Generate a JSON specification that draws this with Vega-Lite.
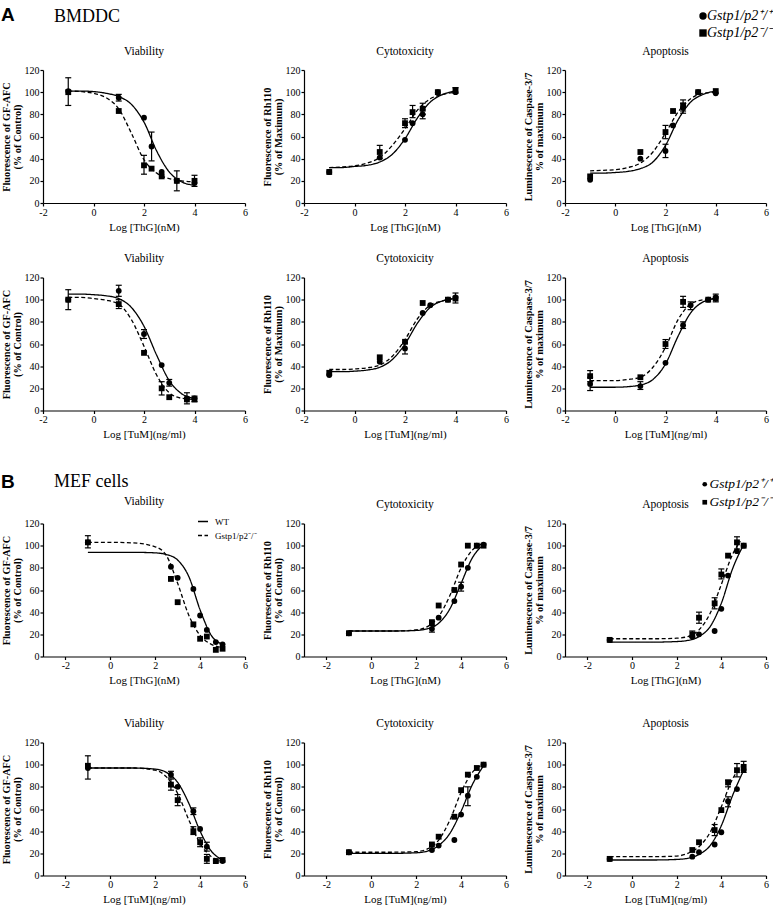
{
"$schema": "https://vega.github.io/schema/vega-lite/v6.json",
"padding": {"left": 1, "top": 6, "right": 0, "bottom": 0},
"config": {
 "view": {"stroke": null},
 "font": "Liberation Serif",
 "axis": {"grid": false, "domainColor": "#000", "domainWidth": 1.2, "tickColor": "#000", "tickWidth": 1.2, "tickSize": 3, "labelColor": "#000", "labelFont": "Liberation Serif", "labelFontSize": 10, "labelPadding": 1, "titleColor": "#000", "titleFont": "Liberation Serif", "labelOverlap": false, "tickCount": 10},
 "axisX": {"titleFontSize": 11, "titleFontWeight": "normal", "titlePadding": 4, "labelFlush": false},
 "axisY": {"titleFontSize": 10.3, "titleFontWeight": "bold", "titlePadding": 2, "titleLineHeight": 11, "labelOverlap": false},
 "title": {"font": "Liberation Serif", "fontSize": 11.5, "fontWeight": "normal", "color": "#000", "offset": 8},
 "legend": {"labelColor": "#000", "labelFont": "Liberation Serif", "padding": 0}
},
"datasets": {
"fit": [
{"p":"A1","g":"wt","x":-1,"y":101},{"p":"A1","g":"wt","x":-0.5,"y":101},{"p":"A1","g":"wt","x":0,"y":100.5},{"p":"A1","g":"wt","x":0.5,"y":99},{"p":"A1","g":"wt","x":1,"y":96},{"p":"A1","g":"wt","x":1.5,"y":89},{"p":"A1","g":"wt","x":2,"y":73},{"p":"A1","g":"wt","x":2.5,"y":47},{"p":"A1","g":"wt","x":3,"y":28},{"p":"A1","g":"wt","x":3.5,"y":19},{"p":"A1","g":"wt","x":4,"y":16},
{"p":"A1","g":"ko","x":-1,"y":101},{"p":"A1","g":"ko","x":-0.5,"y":100.5},{"p":"A1","g":"ko","x":0,"y":99},{"p":"A1","g":"ko","x":0.5,"y":95},{"p":"A1","g":"ko","x":1,"y":85},{"p":"A1","g":"ko","x":1.5,"y":63},{"p":"A1","g":"ko","x":2,"y":39},{"p":"A1","g":"ko","x":2.5,"y":27},{"p":"A1","g":"ko","x":3,"y":22},{"p":"A1","g":"ko","x":3.5,"y":20},{"p":"A1","g":"ko","x":4,"y":19},
{"p":"A2","g":"wt","x":-1,"y":32},{"p":"A2","g":"wt","x":-0.5,"y":32},{"p":"A2","g":"wt","x":0,"y":33},{"p":"A2","g":"wt","x":0.5,"y":34},{"p":"A2","g":"wt","x":1,"y":37},{"p":"A2","g":"wt","x":1.5,"y":44},{"p":"A2","g":"wt","x":2,"y":58},{"p":"A2","g":"wt","x":2.5,"y":77},{"p":"A2","g":"wt","x":3,"y":91},{"p":"A2","g":"wt","x":3.5,"y":98},{"p":"A2","g":"wt","x":4,"y":101},
{"p":"A2","g":"ko","x":-1,"y":32},{"p":"A2","g":"ko","x":-0.5,"y":32.5},{"p":"A2","g":"ko","x":0,"y":33.5},{"p":"A2","g":"ko","x":0.5,"y":36},{"p":"A2","g":"ko","x":1,"y":41},{"p":"A2","g":"ko","x":1.5,"y":52},{"p":"A2","g":"ko","x":2,"y":67},{"p":"A2","g":"ko","x":2.5,"y":84},{"p":"A2","g":"ko","x":3,"y":94},{"p":"A2","g":"ko","x":3.5,"y":98},{"p":"A2","g":"ko","x":4,"y":100},
{"p":"A3","g":"wt","x":-1,"y":27},{"p":"A3","g":"wt","x":-0.5,"y":27},{"p":"A3","g":"wt","x":0,"y":27.5},{"p":"A3","g":"wt","x":0.5,"y":28.5},{"p":"A3","g":"wt","x":1,"y":31},{"p":"A3","g":"wt","x":1.5,"y":37},{"p":"A3","g":"wt","x":2,"y":52},{"p":"A3","g":"wt","x":2.5,"y":75},{"p":"A3","g":"wt","x":3,"y":91},{"p":"A3","g":"wt","x":3.5,"y":98},{"p":"A3","g":"wt","x":4,"y":101},
{"p":"A3","g":"ko","x":-1,"y":29},{"p":"A3","g":"ko","x":-0.5,"y":29.5},{"p":"A3","g":"ko","x":0,"y":30},{"p":"A3","g":"ko","x":0.5,"y":32},{"p":"A3","g":"ko","x":1,"y":36},{"p":"A3","g":"ko","x":1.5,"y":46},{"p":"A3","g":"ko","x":2,"y":63},{"p":"A3","g":"ko","x":2.5,"y":82},{"p":"A3","g":"ko","x":3,"y":94},{"p":"A3","g":"ko","x":3.5,"y":99},{"p":"A3","g":"ko","x":4,"y":100},
{"p":"A4","g":"wt","x":-1,"y":105},{"p":"A4","g":"wt","x":-0.5,"y":105},{"p":"A4","g":"wt","x":0,"y":104.5},{"p":"A4","g":"wt","x":0.5,"y":103.5},{"p":"A4","g":"wt","x":1,"y":101},{"p":"A4","g":"wt","x":1.5,"y":93},{"p":"A4","g":"wt","x":2,"y":76},{"p":"A4","g":"wt","x":2.5,"y":50},{"p":"A4","g":"wt","x":3,"y":27},{"p":"A4","g":"wt","x":3.5,"y":15},{"p":"A4","g":"wt","x":4,"y":11},
{"p":"A4","g":"ko","x":-1,"y":102},{"p":"A4","g":"ko","x":-0.5,"y":102},{"p":"A4","g":"ko","x":0,"y":101},{"p":"A4","g":"ko","x":0.5,"y":99.5},{"p":"A4","g":"ko","x":1,"y":96},{"p":"A4","g":"ko","x":1.5,"y":82},{"p":"A4","g":"ko","x":2,"y":58},{"p":"A4","g":"ko","x":2.5,"y":32},{"p":"A4","g":"ko","x":3,"y":16},{"p":"A4","g":"ko","x":3.5,"y":11},{"p":"A4","g":"ko","x":4,"y":10},
{"p":"A5","g":"wt","x":-1,"y":35},{"p":"A5","g":"wt","x":-0.5,"y":35},{"p":"A5","g":"wt","x":0,"y":35.5},{"p":"A5","g":"wt","x":0.5,"y":36.5},{"p":"A5","g":"wt","x":1,"y":39},{"p":"A5","g":"wt","x":1.5,"y":46},{"p":"A5","g":"wt","x":2,"y":60},{"p":"A5","g":"wt","x":2.5,"y":79},{"p":"A5","g":"wt","x":3,"y":93},{"p":"A5","g":"wt","x":3.5,"y":99},{"p":"A5","g":"wt","x":4,"y":101},
{"p":"A5","g":"ko","x":-1,"y":37},{"p":"A5","g":"ko","x":-0.5,"y":37},{"p":"A5","g":"ko","x":0,"y":37.5},{"p":"A5","g":"ko","x":0.5,"y":38.5},{"p":"A5","g":"ko","x":1,"y":41},{"p":"A5","g":"ko","x":1.5,"y":49},{"p":"A5","g":"ko","x":2,"y":64},{"p":"A5","g":"ko","x":2.5,"y":83},{"p":"A5","g":"ko","x":3,"y":95},{"p":"A5","g":"ko","x":3.5,"y":99},{"p":"A5","g":"ko","x":4,"y":101},
{"p":"A6","g":"wt","x":-1,"y":21},{"p":"A6","g":"wt","x":-0.5,"y":21},{"p":"A6","g":"wt","x":0,"y":21},{"p":"A6","g":"wt","x":0.5,"y":21.5},{"p":"A6","g":"wt","x":1,"y":23},{"p":"A6","g":"wt","x":1.5,"y":28},{"p":"A6","g":"wt","x":2,"y":42},{"p":"A6","g":"wt","x":2.5,"y":67},{"p":"A6","g":"wt","x":3,"y":88},{"p":"A6","g":"wt","x":3.5,"y":98},{"p":"A6","g":"wt","x":4,"y":101},
{"p":"A6","g":"ko","x":-1,"y":27},{"p":"A6","g":"ko","x":-0.5,"y":27},{"p":"A6","g":"ko","x":0,"y":27},{"p":"A6","g":"ko","x":0.5,"y":28},{"p":"A6","g":"ko","x":1,"y":30},{"p":"A6","g":"ko","x":1.5,"y":39},{"p":"A6","g":"ko","x":2,"y":57},{"p":"A6","g":"ko","x":2.5,"y":82},{"p":"A6","g":"ko","x":3,"y":96},{"p":"A6","g":"ko","x":3.5,"y":100},{"p":"A6","g":"ko","x":4,"y":101},
{"p":"B1","g":"wt","x":-1,"y":94},{"p":"B1","g":"wt","x":0,"y":94},{"p":"B1","g":"wt","x":1,"y":94},{"p":"B1","g":"wt","x":2,"y":93.5},{"p":"B1","g":"wt","x":2.5,"y":92},{"p":"B1","g":"wt","x":3,"y":87},{"p":"B1","g":"wt","x":3.5,"y":72},{"p":"B1","g":"wt","x":4,"y":42},{"p":"B1","g":"wt","x":4.5,"y":19},{"p":"B1","g":"wt","x":5,"y":11},
{"p":"B1","g":"ko","x":-1,"y":103},{"p":"B1","g":"ko","x":0,"y":103},{"p":"B1","g":"ko","x":1,"y":102.5},{"p":"B1","g":"ko","x":2,"y":99},{"p":"B1","g":"ko","x":2.5,"y":91},{"p":"B1","g":"ko","x":3,"y":66},{"p":"B1","g":"ko","x":3.5,"y":37},{"p":"B1","g":"ko","x":4,"y":19},{"p":"B1","g":"ko","x":4.5,"y":11},{"p":"B1","g":"ko","x":5,"y":8},
{"p":"B2","g":"wt","x":-1,"y":23},{"p":"B2","g":"wt","x":0,"y":23},{"p":"B2","g":"wt","x":1,"y":23},{"p":"B2","g":"wt","x":2,"y":23.5},{"p":"B2","g":"wt","x":2.5,"y":25},{"p":"B2","g":"wt","x":3,"y":30},{"p":"B2","g":"wt","x":3.5,"y":43},{"p":"B2","g":"wt","x":4,"y":66},{"p":"B2","g":"wt","x":4.5,"y":89},{"p":"B2","g":"wt","x":5,"y":101},
{"p":"B2","g":"ko","x":-1,"y":23},{"p":"B2","g":"ko","x":0,"y":23},{"p":"B2","g":"ko","x":1,"y":23},{"p":"B2","g":"ko","x":2,"y":24},{"p":"B2","g":"ko","x":2.5,"y":27},{"p":"B2","g":"ko","x":3,"y":36},{"p":"B2","g":"ko","x":3.5,"y":55},{"p":"B2","g":"ko","x":4,"y":80},{"p":"B2","g":"ko","x":4.5,"y":96},{"p":"B2","g":"ko","x":5,"y":102},
{"p":"B3","g":"wt","x":-1,"y":13},{"p":"B3","g":"wt","x":0,"y":13},{"p":"B3","g":"wt","x":1,"y":13},{"p":"B3","g":"wt","x":2,"y":13.5},{"p":"B3","g":"wt","x":2.5,"y":14.5},{"p":"B3","g":"wt","x":3,"y":18},{"p":"B3","g":"wt","x":3.5,"y":27},{"p":"B3","g":"wt","x":4,"y":48},{"p":"B3","g":"wt","x":4.5,"y":79},{"p":"B3","g":"wt","x":5,"y":101},
{"p":"B3","g":"ko","x":-1,"y":16},{"p":"B3","g":"ko","x":0,"y":16},{"p":"B3","g":"ko","x":1,"y":16},{"p":"B3","g":"ko","x":2,"y":16.5},{"p":"B3","g":"ko","x":2.5,"y":18},{"p":"B3","g":"ko","x":3,"y":24},{"p":"B3","g":"ko","x":3.5,"y":39},{"p":"B3","g":"ko","x":4,"y":65},{"p":"B3","g":"ko","x":4.5,"y":92},{"p":"B3","g":"ko","x":4.85,"y":104},
{"p":"B4","g":"wt","x":-1,"y":97},{"p":"B4","g":"wt","x":0,"y":97},{"p":"B4","g":"wt","x":1,"y":97},{"p":"B4","g":"wt","x":2,"y":96},{"p":"B4","g":"wt","x":2.5,"y":93},{"p":"B4","g":"wt","x":3,"y":84},{"p":"B4","g":"wt","x":3.5,"y":65},{"p":"B4","g":"wt","x":4,"y":40},{"p":"B4","g":"wt","x":4.5,"y":22},{"p":"B4","g":"wt","x":5,"y":14},
{"p":"B4","g":"ko","x":-1,"y":97},{"p":"B4","g":"ko","x":0,"y":97},{"p":"B4","g":"ko","x":1,"y":97},{"p":"B4","g":"ko","x":2,"y":95},{"p":"B4","g":"ko","x":2.5,"y":89},{"p":"B4","g":"ko","x":3,"y":74},{"p":"B4","g":"ko","x":3.5,"y":50},{"p":"B4","g":"ko","x":4,"y":29},{"p":"B4","g":"ko","x":4.5,"y":17},{"p":"B4","g":"ko","x":5,"y":13},
{"p":"B5","g":"wt","x":-1,"y":20},{"p":"B5","g":"wt","x":0,"y":20},{"p":"B5","g":"wt","x":1,"y":20},{"p":"B5","g":"wt","x":2,"y":20.5},{"p":"B5","g":"wt","x":2.5,"y":22},{"p":"B5","g":"wt","x":3,"y":27},{"p":"B5","g":"wt","x":3.5,"y":38},{"p":"B5","g":"wt","x":4,"y":58},{"p":"B5","g":"wt","x":4.5,"y":82},{"p":"B5","g":"wt","x":5,"y":99},
{"p":"B5","g":"ko","x":-1,"y":21},{"p":"B5","g":"ko","x":0,"y":21},{"p":"B5","g":"ko","x":1,"y":21},{"p":"B5","g":"ko","x":2,"y":21.5},{"p":"B5","g":"ko","x":2.5,"y":24},{"p":"B5","g":"ko","x":3,"y":32},{"p":"B5","g":"ko","x":3.5,"y":50},{"p":"B5","g":"ko","x":4,"y":75},{"p":"B5","g":"ko","x":4.5,"y":93},{"p":"B5","g":"ko","x":5,"y":100},
{"p":"B6","g":"wt","x":-1,"y":14},{"p":"B6","g":"wt","x":0,"y":14},{"p":"B6","g":"wt","x":1,"y":14},{"p":"B6","g":"wt","x":2,"y":14.5},{"p":"B6","g":"wt","x":2.5,"y":15.5},{"p":"B6","g":"wt","x":3,"y":19},{"p":"B6","g":"wt","x":3.5,"y":27},{"p":"B6","g":"wt","x":4,"y":45},{"p":"B6","g":"wt","x":4.5,"y":72},{"p":"B6","g":"wt","x":5,"y":95},
{"p":"B6","g":"ko","x":-1,"y":17},{"p":"B6","g":"ko","x":0,"y":17},{"p":"B6","g":"ko","x":1,"y":17},{"p":"B6","g":"ko","x":2,"y":17.5},{"p":"B6","g":"ko","x":2.5,"y":20},{"p":"B6","g":"ko","x":3,"y":26},{"p":"B6","g":"ko","x":3.5,"y":39},{"p":"B6","g":"ko","x":4,"y":62},{"p":"B6","g":"ko","x":4.5,"y":87},{"p":"B6","g":"ko","x":5,"y":100}
],
"pts": [
{"p":"A1","g":"wt","x":-1,"y":101,"lo":88,"hi":113},{"p":"A1","g":"wt","x":1,"y":95,"lo":92,"hi":98},{"p":"A1","g":"wt","x":2,"y":77},{"p":"A1","g":"wt","x":2.3,"y":51,"lo":38,"hi":64},{"p":"A1","g":"wt","x":2.7,"y":28},{"p":"A1","g":"wt","x":3.3,"y":20,"lo":11,"hi":29},{"p":"A1","g":"wt","x":4,"y":18},
{"p":"A1","g":"ko","x":-1,"y":100},{"p":"A1","g":"ko","x":1,"y":83},{"p":"A1","g":"ko","x":2,"y":34,"lo":26,"hi":43},{"p":"A1","g":"ko","x":2.3,"y":31},{"p":"A1","g":"ko","x":2.7,"y":24},{"p":"A1","g":"ko","x":3.3,"y":20},{"p":"A1","g":"ko","x":4,"y":20,"lo":15,"hi":25},
{"p":"A2","g":"wt","x":-1,"y":28},{"p":"A2","g":"wt","x":1,"y":41},{"p":"A2","g":"wt","x":2,"y":57},{"p":"A2","g":"wt","x":2.3,"y":72},{"p":"A2","g":"wt","x":2.7,"y":80,"lo":76,"hi":84},{"p":"A2","g":"wt","x":3.3,"y":100},{"p":"A2","g":"wt","x":4,"y":100},
{"p":"A2","g":"ko","x":-1,"y":28},{"p":"A2","g":"ko","x":1,"y":46,"lo":40,"hi":52},{"p":"A2","g":"ko","x":2,"y":72,"lo":68,"hi":76},{"p":"A2","g":"ko","x":2.3,"y":82,"lo":77,"hi":88},{"p":"A2","g":"ko","x":2.7,"y":85,"lo":80,"hi":90},{"p":"A2","g":"ko","x":3.3,"y":100},{"p":"A2","g":"ko","x":4,"y":102,"lo":99,"hi":104},
{"p":"A3","g":"wt","x":-1,"y":21},{"p":"A3","g":"wt","x":1,"y":40},{"p":"A3","g":"wt","x":2,"y":47,"lo":41,"hi":53},{"p":"A3","g":"wt","x":2.3,"y":70},{"p":"A3","g":"wt","x":2.7,"y":86,"lo":81,"hi":90},{"p":"A3","g":"wt","x":3.3,"y":100},{"p":"A3","g":"wt","x":4,"y":99},
{"p":"A3","g":"ko","x":-1,"y":24},{"p":"A3","g":"ko","x":1,"y":46},{"p":"A3","g":"ko","x":2,"y":64,"lo":58,"hi":70},{"p":"A3","g":"ko","x":2.3,"y":83},{"p":"A3","g":"ko","x":2.7,"y":88,"lo":83,"hi":93},{"p":"A3","g":"ko","x":3.3,"y":100},{"p":"A3","g":"ko","x":4,"y":101},
{"p":"A4","g":"wt","x":-1,"y":100,"lo":91,"hi":109},{"p":"A4","g":"wt","x":1,"y":108,"lo":103,"hi":113},{"p":"A4","g":"wt","x":2,"y":69,"lo":65,"hi":73},{"p":"A4","g":"wt","x":2.7,"y":41},{"p":"A4","g":"wt","x":3,"y":25,"lo":22,"hi":28},{"p":"A4","g":"wt","x":3.7,"y":11,"lo":6,"hi":16},{"p":"A4","g":"wt","x":4,"y":11},
{"p":"A4","g":"ko","x":-1,"y":100},{"p":"A4","g":"ko","x":1,"y":96,"lo":92,"hi":100},{"p":"A4","g":"ko","x":2,"y":52},{"p":"A4","g":"ko","x":2.7,"y":20,"lo":14,"hi":26},{"p":"A4","g":"ko","x":3,"y":12},{"p":"A4","g":"ko","x":3.7,"y":10},{"p":"A4","g":"ko","x":4,"y":10,"lo":8,"hi":13},
{"p":"A5","g":"wt","x":-1,"y":32},{"p":"A5","g":"wt","x":1,"y":44},{"p":"A5","g":"wt","x":2,"y":56,"lo":51,"hi":61},{"p":"A5","g":"wt","x":2.7,"y":88},{"p":"A5","g":"wt","x":3,"y":95},{"p":"A5","g":"wt","x":3.7,"y":100},{"p":"A5","g":"wt","x":4,"y":102,"lo":97,"hi":106},
{"p":"A5","g":"ko","x":-1,"y":34},{"p":"A5","g":"ko","x":1,"y":48},{"p":"A5","g":"ko","x":2,"y":62},{"p":"A5","g":"ko","x":2.7,"y":97},{"p":"A5","g":"ko","x":3.7,"y":100},{"p":"A5","g":"ko","x":4,"y":101},
{"p":"A6","g":"wt","x":-1,"y":24,"lo":18,"hi":30},{"p":"A6","g":"wt","x":1,"y":22,"lo":19,"hi":26},{"p":"A6","g":"wt","x":2,"y":43},{"p":"A6","g":"wt","x":2.7,"y":77,"lo":74,"hi":80},{"p":"A6","g":"wt","x":3,"y":95,"lo":91,"hi":98},{"p":"A6","g":"wt","x":3.7,"y":100},{"p":"A6","g":"wt","x":4,"y":102,"lo":98,"hi":105},
{"p":"A6","g":"ko","x":-1,"y":31,"lo":26,"hi":36},{"p":"A6","g":"ko","x":1,"y":30},{"p":"A6","g":"ko","x":2,"y":60,"lo":56,"hi":64},{"p":"A6","g":"ko","x":2.7,"y":98,"lo":93,"hi":103},{"p":"A6","g":"ko","x":3.7,"y":100},{"p":"A6","g":"ko","x":4,"y":101},
{"p":"B1","g":"wt","x":-1,"y":103},{"p":"B1","g":"wt","x":2.7,"y":81},{"p":"B1","g":"wt","x":3,"y":71},{"p":"B1","g":"wt","x":3.7,"y":61},{"p":"B1","g":"wt","x":4,"y":37},{"p":"B1","g":"wt","x":4.3,"y":24},{"p":"B1","g":"wt","x":4.7,"y":13},{"p":"B1","g":"wt","x":5,"y":11},
{"p":"B1","g":"ko","x":-1,"y":103,"lo":98,"hi":109},{"p":"B1","g":"ko","x":2.7,"y":70},{"p":"B1","g":"ko","x":3,"y":49},{"p":"B1","g":"ko","x":3.7,"y":29},{"p":"B1","g":"ko","x":4,"y":16},{"p":"B1","g":"ko","x":4.3,"y":18},{"p":"B1","g":"ko","x":4.7,"y":6},{"p":"B1","g":"ko","x":5,"y":7},
{"p":"B2","g":"wt","x":-1,"y":21},{"p":"B2","g":"wt","x":2.7,"y":25,"lo":22,"hi":28},{"p":"B2","g":"wt","x":3,"y":35},{"p":"B2","g":"wt","x":3.7,"y":50},{"p":"B2","g":"wt","x":4,"y":63,"lo":59,"hi":67},{"p":"B2","g":"wt","x":4.3,"y":80},{"p":"B2","g":"wt","x":4.7,"y":100},{"p":"B2","g":"wt","x":5,"y":101},
{"p":"B2","g":"ko","x":-1,"y":21},{"p":"B2","g":"ko","x":2.7,"y":31},{"p":"B2","g":"ko","x":3,"y":46},{"p":"B2","g":"ko","x":3.7,"y":60},{"p":"B2","g":"ko","x":4,"y":83},{"p":"B2","g":"ko","x":4.3,"y":100},{"p":"B2","g":"ko","x":4.7,"y":100},{"p":"B2","g":"ko","x":5,"y":100},
{"p":"B3","g":"wt","x":-1,"y":15},{"p":"B3","g":"wt","x":2.7,"y":18},{"p":"B3","g":"wt","x":3,"y":20},{"p":"B3","g":"wt","x":3.7,"y":23},{"p":"B3","g":"wt","x":4,"y":43},{"p":"B3","g":"wt","x":4.3,"y":73},{"p":"B3","g":"wt","x":4.7,"y":95},{"p":"B3","g":"wt","x":5,"y":100},
{"p":"B3","g":"ko","x":-1,"y":15},{"p":"B3","g":"ko","x":2.7,"y":20,"lo":17,"hi":23},{"p":"B3","g":"ko","x":3,"y":35,"lo":30,"hi":40},{"p":"B3","g":"ko","x":3.7,"y":48,"lo":43,"hi":53},{"p":"B3","g":"ko","x":4,"y":74,"lo":70,"hi":79},{"p":"B3","g":"ko","x":4.3,"y":91},{"p":"B3","g":"ko","x":4.7,"y":103,"lo":97,"hi":108},{"p":"B3","g":"ko","x":5,"y":100},
{"p":"B4","g":"wt","x":-1,"y":97,"lo":87,"hi":108},{"p":"B4","g":"wt","x":2.7,"y":91,"lo":88,"hi":94},{"p":"B4","g":"wt","x":3,"y":80},{"p":"B4","g":"wt","x":3.7,"y":58,"lo":55,"hi":61},{"p":"B4","g":"wt","x":4,"y":42},{"p":"B4","g":"wt","x":4.3,"y":26,"lo":22,"hi":30},{"p":"B4","g":"wt","x":4.7,"y":13},{"p":"B4","g":"wt","x":5,"y":13},
{"p":"B4","g":"ko","x":-1,"y":99},{"p":"B4","g":"ko","x":2.7,"y":82,"lo":77,"hi":87},{"p":"B4","g":"ko","x":3,"y":68,"lo":63,"hi":73},{"p":"B4","g":"ko","x":3.7,"y":40,"lo":37,"hi":44},{"p":"B4","g":"ko","x":4,"y":30,"lo":26,"hi":34},{"p":"B4","g":"ko","x":4.3,"y":15,"lo":11,"hi":19},{"p":"B4","g":"ko","x":4.7,"y":13},{"p":"B4","g":"ko","x":5,"y":14},
{"p":"B5","g":"wt","x":-1,"y":21},{"p":"B5","g":"wt","x":2.7,"y":23},{"p":"B5","g":"wt","x":3,"y":27},{"p":"B5","g":"wt","x":3.7,"y":32},{"p":"B5","g":"wt","x":4,"y":55},{"p":"B5","g":"wt","x":4.3,"y":72,"lo":63,"hi":80},{"p":"B5","g":"wt","x":4.7,"y":89},{"p":"B5","g":"wt","x":5,"y":100},
{"p":"B5","g":"ko","x":-1,"y":21},{"p":"B5","g":"ko","x":2.7,"y":28},{"p":"B5","g":"ko","x":3,"y":35},{"p":"B5","g":"ko","x":3.7,"y":53},{"p":"B5","g":"ko","x":4,"y":77},{"p":"B5","g":"ko","x":4.3,"y":91},{"p":"B5","g":"ko","x":4.7,"y":97},{"p":"B5","g":"ko","x":5,"y":100},
{"p":"B6","g":"wt","x":-1,"y":15},{"p":"B6","g":"wt","x":2.7,"y":17},{"p":"B6","g":"wt","x":3,"y":21},{"p":"B6","g":"wt","x":3.7,"y":28},{"p":"B6","g":"wt","x":4,"y":39},{"p":"B6","g":"wt","x":4.3,"y":67,"lo":62,"hi":71},{"p":"B6","g":"wt","x":4.7,"y":78},{"p":"B6","g":"wt","x":5,"y":95},
{"p":"B6","g":"ko","x":-1,"y":15},{"p":"B6","g":"ko","x":2.7,"y":23},{"p":"B6","g":"ko","x":3,"y":30},{"p":"B6","g":"ko","x":3.7,"y":41,"lo":36,"hi":46},{"p":"B6","g":"ko","x":4,"y":59},{"p":"B6","g":"ko","x":4.3,"y":84,"lo":80,"hi":86},{"p":"B6","g":"ko","x":4.7,"y":95,"lo":89,"hi":101},{"p":"B6","g":"ko","x":5,"y":98,"lo":93,"hi":103}
]
},
"resolve": {"scale": {"shape": "independent", "strokeDash": "independent"}, "legend": {"shape": "independent", "strokeDash": "independent"}},
"spacing": 32.5,
"vconcat": [
{
 "title": {"text": "A", "anchor": "start", "font": "Liberation Sans", "fontWeight": "bold", "fontSize": 19, "offset": 0, "dy": 17},
 "resolve": {"scale": {"shape": "independent", "strokeDash": "independent"}, "legend": {"shape": "independent", "strokeDash": "independent"}},
 "spacing": 20.5,
 "vconcat": [
 {
  "title": {"text": "BMDDC", "anchor": "start", "font": "Liberation Serif", "fontSize": 18, "offset": 0, "dx": 53, "dy": 17},
  "bounds": "flush", "spacing": 59,
  "resolve": {"scale": {"shape": "shared", "strokeDash": "independent"}, "legend": {"shape": "shared", "strokeDash": "independent"}},
  "hconcat": [
  {"width": 202, "height": 133, "title": "Viability", "layer": [
   {"data": {"name": "fit"}, "transform": [{"filter": "datum.p=='A1'"}], "mark": {"type": "line", "interpolate": "monotone", "color": "black", "strokeWidth": 1.3},
    "encoding": {"x": {"field": "x", "type": "quantitative", "scale": {"domain": [-2, 6], "nice": false, "zero": false}, "axis": {"values": [-2, 0, 2, 4, 6], "tickCount": 10, "labelExpr": "datum.value", "title": "Log [ThG](nM)"}},
     "y": {"field": "y", "type": "quantitative", "scale": {"domain": [0, 120], "nice": false}, "axis": {"values": [0, 20, 40, 60, 80, 100, 120], "tickCount": 10, "labelOverlap": false, "title": ["Fluorescence of GF-AFC", "(% of Control)"]}},
     "strokeDash": {"field": "g", "type": "nominal", "scale": {"domain": ["ko", "wt"], "range": [[4, 2.5], [1, 0]]}, "legend": null}}},
   {"data": {"name": "pts"}, "transform": [{"filter": "datum.p=='A1' && isValid(datum.lo)"}], "mark": {"type": "rule", "color": "black", "strokeWidth": 1.2},
    "encoding": {"x": {"field": "x", "type": "quantitative"}, "y": {"field": "lo", "type": "quantitative"}, "y2": {"field": "hi"}}},
   {"data": {"name": "pts"}, "transform": [{"filter": "datum.p=='A1' && isValid(datum.lo)"}, {"fold": ["lo", "hi"], "as": ["k", "v"]}], "mark": {"type": "tick", "orient": "horizontal", "color": "black", "opacity": 1, "size": 6, "thickness": 1.2},
    "encoding": {"x": {"field": "x", "type": "quantitative"}, "y": {"field": "v", "type": "quantitative"}}},
   {"data": {"name": "pts"}, "transform": [{"filter": "datum.p=='A1'"}], "mark": {"type": "point", "filled": true, "color": "black", "opacity": 1, "size": 34},
    "encoding": {"x": {"field": "x", "type": "quantitative"}, "y": {"field": "y", "type": "quantitative"},
     "shape": {"field": "g", "type": "nominal", "scale": {"domain": ["wt", "ko"], "range": ["circle", "square"]},
      "legend": {"orient": "none", "legendX": 653, "legendY": -61, "title": null, "padding": 0, "symbolSize": 55, "symbolFillColor": "black", "symbolStrokeColor": "black", "labelFontSize": 14, "labelFontStyle": "italic", "labelOffset": -3, "rowPadding": 3, "labelExpr": "datum.value == 'wt' ? 'Gstp1/p2⁺/⁺' : 'Gstp1/p2⁻/⁻'"}}}}
  ]},
  {"width": 202, "height": 133, "title": "Cytotoxicity", "layer": [
   {"data": {"name": "fit"}, "transform": [{"filter": "datum.p=='A2'"}], "mark": {"type": "line", "interpolate": "monotone", "color": "black", "strokeWidth": 1.3},
    "encoding": {"x": {"field": "x", "type": "quantitative", "scale": {"domain": [-2, 6], "nice": false, "zero": false}, "axis": {"values": [-2, 0, 2, 4, 6], "tickCount": 10, "labelExpr": "datum.value", "title": "Log [ThG](nM)"}},
     "y": {"field": "y", "type": "quantitative", "scale": {"domain": [0, 120], "nice": false}, "axis": {"values": [0, 20, 40, 60, 80, 100, 120], "tickCount": 10, "labelOverlap": false, "title": ["Fluorescence of Rh110", "(% of Maximum)"]}},
     "strokeDash": {"field": "g", "type": "nominal", "scale": {"domain": ["ko", "wt"], "range": [[4, 2.5], [1, 0]]}, "legend": null}}},
   {"data": {"name": "pts"}, "transform": [{"filter": "datum.p=='A2' && isValid(datum.lo)"}], "mark": {"type": "rule", "color": "black", "strokeWidth": 1.2},
    "encoding": {"x": {"field": "x", "type": "quantitative"}, "y": {"field": "lo", "type": "quantitative"}, "y2": {"field": "hi"}}},
   {"data": {"name": "pts"}, "transform": [{"filter": "datum.p=='A2' && isValid(datum.lo)"}, {"fold": ["lo", "hi"], "as": ["k", "v"]}], "mark": {"type": "tick", "orient": "horizontal", "color": "black", "opacity": 1, "size": 6, "thickness": 1.2},
    "encoding": {"x": {"field": "x", "type": "quantitative"}, "y": {"field": "v", "type": "quantitative"}}},
   {"data": {"name": "pts"}, "transform": [{"filter": "datum.p=='A2'"}], "mark": {"type": "point", "filled": true, "color": "black", "opacity": 1, "size": 34},
    "encoding": {"x": {"field": "x", "type": "quantitative"}, "y": {"field": "y", "type": "quantitative"},
     "shape": {"field": "g", "type": "nominal", "scale": {"domain": ["wt", "ko"], "range": ["circle", "square"]},
      "legend": {"orient": "none", "legendX": 653, "legendY": -61, "title": null, "padding": 0, "symbolSize": 55, "symbolFillColor": "black", "symbolStrokeColor": "black", "labelFontSize": 14, "labelFontStyle": "italic", "labelOffset": -3, "rowPadding": 3, "labelExpr": "datum.value == 'wt' ? 'Gstp1/p2⁺/⁺' : 'Gstp1/p2⁻/⁻'"}}}}
  ]},
  {"width": 201, "height": 133, "title": "Apoptosis", "layer": [
   {"data": {"name": "fit"}, "transform": [{"filter": "datum.p=='A3'"}], "mark": {"type": "line", "interpolate": "monotone", "color": "black", "strokeWidth": 1.3},
    "encoding": {"x": {"field": "x", "type": "quantitative", "scale": {"domain": [-2, 6], "nice": false, "zero": false}, "axis": {"values": [-2, 0, 2, 4, 6], "tickCount": 10, "labelExpr": "datum.value", "title": "Log [ThG](nM)"}},
     "y": {"field": "y", "type": "quantitative", "scale": {"domain": [0, 120], "nice": false}, "axis": {"values": [0, 20, 40, 60, 80, 100, 120], "tickCount": 10, "labelOverlap": false, "title": ["Luminescence of Caspase-3/7", "% of maximum"]}},
     "strokeDash": {"field": "g", "type": "nominal", "scale": {"domain": ["ko", "wt"], "range": [[4, 2.5], [1, 0]]}, "legend": null}}},
   {"data": {"name": "pts"}, "transform": [{"filter": "datum.p=='A3' && isValid(datum.lo)"}], "mark": {"type": "rule", "color": "black", "strokeWidth": 1.2},
    "encoding": {"x": {"field": "x", "type": "quantitative"}, "y": {"field": "lo", "type": "quantitative"}, "y2": {"field": "hi"}}},
   {"data": {"name": "pts"}, "transform": [{"filter": "datum.p=='A3' && isValid(datum.lo)"}, {"fold": ["lo", "hi"], "as": ["k", "v"]}], "mark": {"type": "tick", "orient": "horizontal", "color": "black", "opacity": 1, "size": 6, "thickness": 1.2},
    "encoding": {"x": {"field": "x", "type": "quantitative"}, "y": {"field": "v", "type": "quantitative"}}},
   {"data": {"name": "pts"}, "transform": [{"filter": "datum.p=='A3'"}], "mark": {"type": "point", "filled": true, "color": "black", "opacity": 1, "size": 34},
    "encoding": {"x": {"field": "x", "type": "quantitative"}, "y": {"field": "y", "type": "quantitative"},
     "shape": {"field": "g", "type": "nominal", "scale": {"domain": ["wt", "ko"], "range": ["circle", "square"]},
      "legend": {"orient": "none", "legendX": 653, "legendY": -61, "title": null, "padding": 0, "symbolSize": 55, "symbolFillColor": "black", "symbolStrokeColor": "black", "labelFontSize": 14, "labelFontStyle": "italic", "labelOffset": -3, "rowPadding": 3, "labelExpr": "datum.value == 'wt' ? 'Gstp1/p2⁺/⁺' : 'Gstp1/p2⁻/⁻'"}}}}
  ]}
  ]
 },
 {
  "bounds": "flush", "spacing": 59,
  "resolve": {"scale": {"shape": "shared", "strokeDash": "independent"}, "legend": {"shape": "shared", "strokeDash": "independent"}},
  "hconcat": [
  {"width": 202, "height": 133, "title": "Viability", "layer": [
   {"data": {"name": "fit"}, "transform": [{"filter": "datum.p=='A4'"}], "mark": {"type": "line", "interpolate": "monotone", "color": "black", "strokeWidth": 1.3},
    "encoding": {"x": {"field": "x", "type": "quantitative", "scale": {"domain": [-2, 6], "nice": false, "zero": false}, "axis": {"values": [-2, 0, 2, 4, 6], "tickCount": 10, "labelExpr": "datum.value", "title": "Log [TuM](ng/ml)"}},
     "y": {"field": "y", "type": "quantitative", "scale": {"domain": [0, 120], "nice": false}, "axis": {"values": [0, 20, 40, 60, 80, 100, 120], "tickCount": 10, "labelOverlap": false, "title": ["Fluorescence of GF-AFC", "(% of Control)"]}},
     "strokeDash": {"field": "g", "type": "nominal", "scale": {"domain": ["ko", "wt"], "range": [[4, 2.5], [1, 0]]}, "legend": null}}},
   {"data": {"name": "pts"}, "transform": [{"filter": "datum.p=='A4' && isValid(datum.lo)"}], "mark": {"type": "rule", "color": "black", "strokeWidth": 1.2},
    "encoding": {"x": {"field": "x", "type": "quantitative"}, "y": {"field": "lo", "type": "quantitative"}, "y2": {"field": "hi"}}},
   {"data": {"name": "pts"}, "transform": [{"filter": "datum.p=='A4' && isValid(datum.lo)"}, {"fold": ["lo", "hi"], "as": ["k", "v"]}], "mark": {"type": "tick", "orient": "horizontal", "color": "black", "opacity": 1, "size": 6, "thickness": 1.2},
    "encoding": {"x": {"field": "x", "type": "quantitative"}, "y": {"field": "v", "type": "quantitative"}}},
   {"data": {"name": "pts"}, "transform": [{"filter": "datum.p=='A4'"}], "mark": {"type": "point", "filled": true, "color": "black", "opacity": 1, "size": 34},
    "encoding": {"x": {"field": "x", "type": "quantitative"}, "y": {"field": "y", "type": "quantitative"},
     "shape": {"field": "g", "type": "nominal", "scale": {"domain": ["wt", "ko"], "range": ["circle", "square"]}, "legend": null}}}
  ]},
  {"width": 202, "height": 133, "title": "Cytotoxicity", "layer": [
   {"data": {"name": "fit"}, "transform": [{"filter": "datum.p=='A5'"}], "mark": {"type": "line", "interpolate": "monotone", "color": "black", "strokeWidth": 1.3},
    "encoding": {"x": {"field": "x", "type": "quantitative", "scale": {"domain": [-2, 6], "nice": false, "zero": false}, "axis": {"values": [-2, 0, 2, 4, 6], "tickCount": 10, "labelExpr": "datum.value", "title": "Log [TuM](ng/ml)"}},
     "y": {"field": "y", "type": "quantitative", "scale": {"domain": [0, 120], "nice": false}, "axis": {"values": [0, 20, 40, 60, 80, 100, 120], "tickCount": 10, "labelOverlap": false, "title": ["Fluorescence of Rh110", "(% of Maximum)"]}},
     "strokeDash": {"field": "g", "type": "nominal", "scale": {"domain": ["ko", "wt"], "range": [[4, 2.5], [1, 0]]}, "legend": null}}},
   {"data": {"name": "pts"}, "transform": [{"filter": "datum.p=='A5' && isValid(datum.lo)"}], "mark": {"type": "rule", "color": "black", "strokeWidth": 1.2},
    "encoding": {"x": {"field": "x", "type": "quantitative"}, "y": {"field": "lo", "type": "quantitative"}, "y2": {"field": "hi"}}},
   {"data": {"name": "pts"}, "transform": [{"filter": "datum.p=='A5' && isValid(datum.lo)"}, {"fold": ["lo", "hi"], "as": ["k", "v"]}], "mark": {"type": "tick", "orient": "horizontal", "color": "black", "opacity": 1, "size": 6, "thickness": 1.2},
    "encoding": {"x": {"field": "x", "type": "quantitative"}, "y": {"field": "v", "type": "quantitative"}}},
   {"data": {"name": "pts"}, "transform": [{"filter": "datum.p=='A5'"}], "mark": {"type": "point", "filled": true, "color": "black", "opacity": 1, "size": 34},
    "encoding": {"x": {"field": "x", "type": "quantitative"}, "y": {"field": "y", "type": "quantitative"},
     "shape": {"field": "g", "type": "nominal", "scale": {"domain": ["wt", "ko"], "range": ["circle", "square"]}, "legend": null}}}
  ]},
  {"width": 201, "height": 133, "title": "Apoptosis", "layer": [
   {"data": {"name": "fit"}, "transform": [{"filter": "datum.p=='A6'"}], "mark": {"type": "line", "interpolate": "monotone", "color": "black", "strokeWidth": 1.3},
    "encoding": {"x": {"field": "x", "type": "quantitative", "scale": {"domain": [-2, 6], "nice": false, "zero": false}, "axis": {"values": [-2, 0, 2, 4, 6], "tickCount": 10, "labelExpr": "datum.value", "title": "Log [TuM](ng/ml)"}},
     "y": {"field": "y", "type": "quantitative", "scale": {"domain": [0, 120], "nice": false}, "axis": {"values": [0, 20, 40, 60, 80, 100, 120], "tickCount": 10, "labelOverlap": false, "title": ["Luminescence of Caspase-3/7", "% of maximum"]}},
     "strokeDash": {"field": "g", "type": "nominal", "scale": {"domain": ["ko", "wt"], "range": [[4, 2.5], [1, 0]]}, "legend": null}}},
   {"data": {"name": "pts"}, "transform": [{"filter": "datum.p=='A6' && isValid(datum.lo)"}], "mark": {"type": "rule", "color": "black", "strokeWidth": 1.2},
    "encoding": {"x": {"field": "x", "type": "quantitative"}, "y": {"field": "lo", "type": "quantitative"}, "y2": {"field": "hi"}}},
   {"data": {"name": "pts"}, "transform": [{"filter": "datum.p=='A6' && isValid(datum.lo)"}, {"fold": ["lo", "hi"], "as": ["k", "v"]}], "mark": {"type": "tick", "orient": "horizontal", "color": "black", "opacity": 1, "size": 6, "thickness": 1.2},
    "encoding": {"x": {"field": "x", "type": "quantitative"}, "y": {"field": "v", "type": "quantitative"}}},
   {"data": {"name": "pts"}, "transform": [{"filter": "datum.p=='A6'"}], "mark": {"type": "point", "filled": true, "color": "black", "opacity": 1, "size": 34},
    "encoding": {"x": {"field": "x", "type": "quantitative"}, "y": {"field": "y", "type": "quantitative"},
     "shape": {"field": "g", "type": "nominal", "scale": {"domain": ["wt", "ko"], "range": ["circle", "square"]}, "legend": null}}}
  ]}
  ]
 }
 ]
},
{
 "title": {"text": "B", "anchor": "start", "font": "Liberation Sans", "fontWeight": "bold", "fontSize": 19, "offset": 0, "dy": 19},
 "resolve": {"scale": {"shape": "independent", "strokeDash": "independent"}, "legend": {"shape": "independent", "strokeDash": "independent"}},
 "spacing": 32,
 "vconcat": [
 {
  "title": {"text": "MEF cells", "anchor": "start", "font": "Liberation Serif", "fontSize": 18, "offset": 0, "dx": 53, "dy": 13},
  "bounds": "flush", "spacing": 59,
  "resolve": {"scale": {"shape": "shared", "strokeDash": "independent"}, "legend": {"shape": "shared", "strokeDash": "independent"}},
  "hconcat": [
  {"width": 202, "height": 133, "title": "Viability", "layer": [
   {"data": {"name": "fit"}, "transform": [{"filter": "datum.p=='B1'"}], "mark": {"type": "line", "interpolate": "monotone", "color": "black", "strokeWidth": 1.3},
    "encoding": {"x": {"field": "x", "type": "quantitative", "scale": {"domain": [-3, 6], "nice": false, "zero": false}, "axis": {"values": [-2, 0, 2, 4, 6], "tickCount": 10, "labelExpr": "datum.value", "title": "Log [ThG](nM)"}},
     "y": {"field": "y", "type": "quantitative", "scale": {"domain": [0, 120], "nice": false}, "axis": {"values": [0, 20, 40, 60, 80, 100, 120], "tickCount": 10, "labelOverlap": false, "title": ["Fluorescence of GF-AFC", "(% of Control)"]}},
     "strokeDash": {"field": "g", "type": "nominal", "scale": {"domain": ["wt", "ko"], "range": [[1, 0], [4, 2.5]]},
      "legend": {"orient": "none", "legendX": 154, "legendY": -8, "title": null, "padding": 0, "symbolSize": 100, "labelFontSize": 9, "labelOffset": 6, "rowPadding": 3, "labelExpr": "datum.value == 'wt' ? 'WT' : 'Gstp1/p2⁻/⁻'",
       "encode": {"symbols": {"shape": {"condition": {"test": "datum.value == 'wt'", "value": "M-1.6,0L1.6,0M0.7,0A0.7,0.7,0,1,1,-0.7,0A0.7,0.7,0,1,1,0.7,0Z"}, "value": "M-1.6,0L1.6,0M-0.6,-0.6L0.6,-0.6L0.6,0.6L-0.6,0.6Z"},
                              "fill": {"value": "black"}, "stroke": {"value": "black"}, "strokeWidth": {"value": 1.2}, "opacity": {"value": 1}},
                  "labels": {"fontStyle": {"condition": {"test": "datum.value == 'ko'", "value": "italic"}, "value": "normal"}}}}}}},
   {"data": {"name": "pts"}, "transform": [{"filter": "datum.p=='B1' && isValid(datum.lo)"}], "mark": {"type": "rule", "color": "black", "strokeWidth": 1.2},
    "encoding": {"x": {"field": "x", "type": "quantitative"}, "y": {"field": "lo", "type": "quantitative"}, "y2": {"field": "hi"}}},
   {"data": {"name": "pts"}, "transform": [{"filter": "datum.p=='B1' && isValid(datum.lo)"}, {"fold": ["lo", "hi"], "as": ["k", "v"]}], "mark": {"type": "tick", "orient": "horizontal", "color": "black", "opacity": 1, "size": 6, "thickness": 1.2},
    "encoding": {"x": {"field": "x", "type": "quantitative"}, "y": {"field": "v", "type": "quantitative"}}},
   {"data": {"name": "pts"}, "transform": [{"filter": "datum.p=='B1'"}], "mark": {"type": "point", "filled": true, "color": "black", "opacity": 1, "size": 34},
    "encoding": {"x": {"field": "x", "type": "quantitative"}, "y": {"field": "y", "type": "quantitative"},
     "shape": {"field": "g", "type": "nominal", "scale": {"domain": ["wt", "ko"], "range": ["circle", "square"]},
      "legend": {"orient": "none", "legendX": 655, "legendY": -46, "title": null, "padding": 0, "symbolSize": 22, "symbolFillColor": "black", "symbolStrokeColor": "black", "labelFontSize": 13.5, "labelFontStyle": "italic", "labelOffset": -2, "rowPadding": 3, "labelExpr": "datum.value == 'wt' ? 'Gstp1/p2⁺/⁺' : 'Gstp1/p2⁻/⁻'"}}}}
  ]},
  {"width": 202, "height": 133, "title": "Cytotoxicity", "layer": [
   {"data": {"name": "fit"}, "transform": [{"filter": "datum.p=='B2'"}], "mark": {"type": "line", "interpolate": "monotone", "color": "black", "strokeWidth": 1.3},
    "encoding": {"x": {"field": "x", "type": "quantitative", "scale": {"domain": [-3, 6], "nice": false, "zero": false}, "axis": {"values": [-2, 0, 2, 4, 6], "tickCount": 10, "labelExpr": "datum.value", "title": "Log [ThG](nM)"}},
     "y": {"field": "y", "type": "quantitative", "scale": {"domain": [0, 120], "nice": false}, "axis": {"values": [0, 20, 40, 60, 80, 100, 120], "tickCount": 10, "labelOverlap": false, "title": ["Fluorescence of Rh110", "(% of Control)"]}},
     "strokeDash": {"field": "g", "type": "nominal", "scale": {"domain": ["ko", "wt"], "range": [[4, 2.5], [1, 0]]}, "legend": null}}},
   {"data": {"name": "pts"}, "transform": [{"filter": "datum.p=='B2' && isValid(datum.lo)"}], "mark": {"type": "rule", "color": "black", "strokeWidth": 1.2},
    "encoding": {"x": {"field": "x", "type": "quantitative"}, "y": {"field": "lo", "type": "quantitative"}, "y2": {"field": "hi"}}},
   {"data": {"name": "pts"}, "transform": [{"filter": "datum.p=='B2' && isValid(datum.lo)"}, {"fold": ["lo", "hi"], "as": ["k", "v"]}], "mark": {"type": "tick", "orient": "horizontal", "color": "black", "opacity": 1, "size": 6, "thickness": 1.2},
    "encoding": {"x": {"field": "x", "type": "quantitative"}, "y": {"field": "v", "type": "quantitative"}}},
   {"data": {"name": "pts"}, "transform": [{"filter": "datum.p=='B2'"}], "mark": {"type": "point", "filled": true, "color": "black", "opacity": 1, "size": 34},
    "encoding": {"x": {"field": "x", "type": "quantitative"}, "y": {"field": "y", "type": "quantitative"},
     "shape": {"field": "g", "type": "nominal", "scale": {"domain": ["wt", "ko"], "range": ["circle", "square"]},
      "legend": {"orient": "none", "legendX": 655, "legendY": -46, "title": null, "padding": 0, "symbolSize": 22, "symbolFillColor": "black", "symbolStrokeColor": "black", "labelFontSize": 13.5, "labelFontStyle": "italic", "labelOffset": -2, "rowPadding": 3, "labelExpr": "datum.value == 'wt' ? 'Gstp1/p2⁺/⁺' : 'Gstp1/p2⁻/⁻'"}}}}
  ]},
  {"width": 201, "height": 133, "title": "Apoptosis", "layer": [
   {"data": {"name": "fit"}, "transform": [{"filter": "datum.p=='B3'"}], "mark": {"type": "line", "interpolate": "monotone", "color": "black", "strokeWidth": 1.3},
    "encoding": {"x": {"field": "x", "type": "quantitative", "scale": {"domain": [-3, 6], "nice": false, "zero": false}, "axis": {"values": [-2, 0, 2, 4, 6], "tickCount": 10, "labelExpr": "datum.value", "title": "Log [ThG](nM)"}},
     "y": {"field": "y", "type": "quantitative", "scale": {"domain": [0, 120], "nice": false}, "axis": {"values": [0, 20, 40, 60, 80, 100, 120], "tickCount": 10, "labelOverlap": false, "title": ["Luminescence of Caspase-3/7", "% of maximum"]}},
     "strokeDash": {"field": "g", "type": "nominal", "scale": {"domain": ["ko", "wt"], "range": [[4, 2.5], [1, 0]]}, "legend": null}}},
   {"data": {"name": "pts"}, "transform": [{"filter": "datum.p=='B3' && isValid(datum.lo)"}], "mark": {"type": "rule", "color": "black", "strokeWidth": 1.2},
    "encoding": {"x": {"field": "x", "type": "quantitative"}, "y": {"field": "lo", "type": "quantitative"}, "y2": {"field": "hi"}}},
   {"data": {"name": "pts"}, "transform": [{"filter": "datum.p=='B3' && isValid(datum.lo)"}, {"fold": ["lo", "hi"], "as": ["k", "v"]}], "mark": {"type": "tick", "orient": "horizontal", "color": "black", "opacity": 1, "size": 6, "thickness": 1.2},
    "encoding": {"x": {"field": "x", "type": "quantitative"}, "y": {"field": "v", "type": "quantitative"}}},
   {"data": {"name": "pts"}, "transform": [{"filter": "datum.p=='B3'"}], "mark": {"type": "point", "filled": true, "color": "black", "opacity": 1, "size": 34},
    "encoding": {"x": {"field": "x", "type": "quantitative"}, "y": {"field": "y", "type": "quantitative"},
     "shape": {"field": "g", "type": "nominal", "scale": {"domain": ["wt", "ko"], "range": ["circle", "square"]},
      "legend": {"orient": "none", "legendX": 655, "legendY": -46, "title": null, "padding": 0, "symbolSize": 22, "symbolFillColor": "black", "symbolStrokeColor": "black", "labelFontSize": 13.5, "labelFontStyle": "italic", "labelOffset": -2, "rowPadding": 3, "labelExpr": "datum.value == 'wt' ? 'Gstp1/p2⁺/⁺' : 'Gstp1/p2⁻/⁻'"}}}}
  ]}
  ]
 },
 {
  "bounds": "flush", "spacing": 59,
  "resolve": {"scale": {"shape": "shared", "strokeDash": "independent"}, "legend": {"shape": "shared", "strokeDash": "independent"}},
  "hconcat": [
  {"width": 202, "height": 133, "title": "Viability", "layer": [
   {"data": {"name": "fit"}, "transform": [{"filter": "datum.p=='B4'"}], "mark": {"type": "line", "interpolate": "monotone", "color": "black", "strokeWidth": 1.3},
    "encoding": {"x": {"field": "x", "type": "quantitative", "scale": {"domain": [-3, 6], "nice": false, "zero": false}, "axis": {"values": [-2, 0, 2, 4, 6], "tickCount": 10, "labelExpr": "datum.value", "title": "Log [TuM](ng/ml)"}},
     "y": {"field": "y", "type": "quantitative", "scale": {"domain": [0, 120], "nice": false}, "axis": {"values": [0, 20, 40, 60, 80, 100, 120], "tickCount": 10, "labelOverlap": false, "title": ["Fluorescence of GF-AFC", "(% of Control)"]}},
     "strokeDash": {"field": "g", "type": "nominal", "scale": {"domain": ["ko", "wt"], "range": [[4, 2.5], [1, 0]]}, "legend": null}}},
   {"data": {"name": "pts"}, "transform": [{"filter": "datum.p=='B4' && isValid(datum.lo)"}], "mark": {"type": "rule", "color": "black", "strokeWidth": 1.2},
    "encoding": {"x": {"field": "x", "type": "quantitative"}, "y": {"field": "lo", "type": "quantitative"}, "y2": {"field": "hi"}}},
   {"data": {"name": "pts"}, "transform": [{"filter": "datum.p=='B4' && isValid(datum.lo)"}, {"fold": ["lo", "hi"], "as": ["k", "v"]}], "mark": {"type": "tick", "orient": "horizontal", "color": "black", "opacity": 1, "size": 6, "thickness": 1.2},
    "encoding": {"x": {"field": "x", "type": "quantitative"}, "y": {"field": "v", "type": "quantitative"}}},
   {"data": {"name": "pts"}, "transform": [{"filter": "datum.p=='B4'"}], "mark": {"type": "point", "filled": true, "color": "black", "opacity": 1, "size": 34},
    "encoding": {"x": {"field": "x", "type": "quantitative"}, "y": {"field": "y", "type": "quantitative"},
     "shape": {"field": "g", "type": "nominal", "scale": {"domain": ["wt", "ko"], "range": ["circle", "square"]}, "legend": null}}}
  ]},
  {"width": 202, "height": 133, "title": "Cytotoxicity", "layer": [
   {"data": {"name": "fit"}, "transform": [{"filter": "datum.p=='B5'"}], "mark": {"type": "line", "interpolate": "monotone", "color": "black", "strokeWidth": 1.3},
    "encoding": {"x": {"field": "x", "type": "quantitative", "scale": {"domain": [-3, 6], "nice": false, "zero": false}, "axis": {"values": [-2, 0, 2, 4, 6], "tickCount": 10, "labelExpr": "datum.value", "title": "Log [TuM](ng/ml)"}},
     "y": {"field": "y", "type": "quantitative", "scale": {"domain": [0, 120], "nice": false}, "axis": {"values": [0, 20, 40, 60, 80, 100, 120], "tickCount": 10, "labelOverlap": false, "title": ["Fluorescence of Rh110", "(% of Control)"]}},
     "strokeDash": {"field": "g", "type": "nominal", "scale": {"domain": ["ko", "wt"], "range": [[4, 2.5], [1, 0]]}, "legend": null}}},
   {"data": {"name": "pts"}, "transform": [{"filter": "datum.p=='B5' && isValid(datum.lo)"}], "mark": {"type": "rule", "color": "black", "strokeWidth": 1.2},
    "encoding": {"x": {"field": "x", "type": "quantitative"}, "y": {"field": "lo", "type": "quantitative"}, "y2": {"field": "hi"}}},
   {"data": {"name": "pts"}, "transform": [{"filter": "datum.p=='B5' && isValid(datum.lo)"}, {"fold": ["lo", "hi"], "as": ["k", "v"]}], "mark": {"type": "tick", "orient": "horizontal", "color": "black", "opacity": 1, "size": 6, "thickness": 1.2},
    "encoding": {"x": {"field": "x", "type": "quantitative"}, "y": {"field": "v", "type": "quantitative"}}},
   {"data": {"name": "pts"}, "transform": [{"filter": "datum.p=='B5'"}], "mark": {"type": "point", "filled": true, "color": "black", "opacity": 1, "size": 34},
    "encoding": {"x": {"field": "x", "type": "quantitative"}, "y": {"field": "y", "type": "quantitative"},
     "shape": {"field": "g", "type": "nominal", "scale": {"domain": ["wt", "ko"], "range": ["circle", "square"]}, "legend": null}}}
  ]},
  {"width": 201, "height": 133, "title": "Apoptosis", "layer": [
   {"data": {"name": "fit"}, "transform": [{"filter": "datum.p=='B6'"}], "mark": {"type": "line", "interpolate": "monotone", "color": "black", "strokeWidth": 1.3},
    "encoding": {"x": {"field": "x", "type": "quantitative", "scale": {"domain": [-3, 6], "nice": false, "zero": false}, "axis": {"values": [-2, 0, 2, 4, 6], "tickCount": 10, "labelExpr": "datum.value", "title": "Log [TuM](ng/ml)"}},
     "y": {"field": "y", "type": "quantitative", "scale": {"domain": [0, 120], "nice": false}, "axis": {"values": [0, 20, 40, 60, 80, 100, 120], "tickCount": 10, "labelOverlap": false, "title": ["Luminescence of Caspase-3/7", "% of maximum"]}},
     "strokeDash": {"field": "g", "type": "nominal", "scale": {"domain": ["ko", "wt"], "range": [[4, 2.5], [1, 0]]}, "legend": null}}},
   {"data": {"name": "pts"}, "transform": [{"filter": "datum.p=='B6' && isValid(datum.lo)"}], "mark": {"type": "rule", "color": "black", "strokeWidth": 1.2},
    "encoding": {"x": {"field": "x", "type": "quantitative"}, "y": {"field": "lo", "type": "quantitative"}, "y2": {"field": "hi"}}},
   {"data": {"name": "pts"}, "transform": [{"filter": "datum.p=='B6' && isValid(datum.lo)"}, {"fold": ["lo", "hi"], "as": ["k", "v"]}], "mark": {"type": "tick", "orient": "horizontal", "color": "black", "opacity": 1, "size": 6, "thickness": 1.2},
    "encoding": {"x": {"field": "x", "type": "quantitative"}, "y": {"field": "v", "type": "quantitative"}}},
   {"data": {"name": "pts"}, "transform": [{"filter": "datum.p=='B6'"}], "mark": {"type": "point", "filled": true, "color": "black", "opacity": 1, "size": 34},
    "encoding": {"x": {"field": "x", "type": "quantitative"}, "y": {"field": "y", "type": "quantitative"},
     "shape": {"field": "g", "type": "nominal", "scale": {"domain": ["wt", "ko"], "range": ["circle", "square"]}, "legend": null}}}
  ]}
  ]
 }
 ]
}
]
}
